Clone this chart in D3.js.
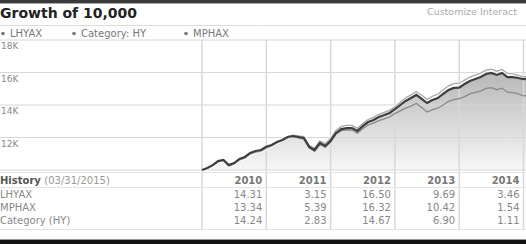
<!DOCTYPE html>
<html>
<head>
<meta charset="utf-8">
<script src="https://cdn.jsdelivr.net/npm/d3@7"></script>
<style>
  body { margin: 0; background: #fff; overflow: hidden; }
  text { font-family: "DejaVu Sans", Verdana, sans-serif; }
</style>
</head>
<body>
<div id="chart"></div>
<script>
// monthly growth of 10,000, Jan 2010 .. Mar 2015
const startYear = 2010
const lhyax = [10000, 10120, 10300, 10550, 10620, 10300, 10430, 10680, 10800, 11050, 11170, 11230, 11430,
  11540, 11720, 11850, 12030, 12090, 12030, 11970, 11420, 11230, 11660, 11480, 11790,
  12280, 12520, 12580, 12580, 12400, 12700, 12950, 13080, 13260, 13380, 13510, 13740,
  14000, 14250, 14430, 14620, 14380, 14120, 14310, 14430, 14680, 14920, 15050, 15070,
  15290, 15480, 15600, 15720, 15910, 15970, 15850, 15970, 15720, 15720, 15660, 15590,
  15650, 15800, 15850]
const mphax = [10000, 10110, 10280, 10520, 10580, 10250, 10370, 10610, 10730, 10970, 11090, 11150, 11330,
  11480, 11690, 11850, 12060, 12140, 12100, 12050, 11520, 11350, 11780, 11620, 11950,
  12440, 12680, 12740, 12750, 12560, 12860, 13110, 13240, 13420, 13540, 13670, 13890,
  14170, 14430, 14620, 14830, 14600, 14340, 14540, 14670, 14930, 15180, 15310, 15340,
  15530, 15720, 15840, 15960, 16150, 16200, 16080, 16190, 15940, 15910, 15830, 15750,
  15810, 15950, 16000]
const category = [10000, 10120, 10300, 10540, 10610, 10300, 10420, 10670, 10790, 11030, 11150, 11210, 11420,
  11530, 11700, 11830, 12000, 12050, 11980, 11900, 11360, 11150, 11570, 11390, 11750,
  12200, 12420, 12470, 12460, 12270, 12540, 12770, 12880, 13040, 13140, 13260, 13470,
  13640, 13810, 13930, 14090, 13840, 13570, 13720, 13800, 14000, 14220, 14330, 14400,
  14520, 14680, 14770, 14860, 15020, 15070, 14940, 15040, 14790, 14760, 14680, 14560,
  14600, 14720, 14760]

const yTicks = [10000, 12000, 14000, 16000, 18000]
const legendNames = ["LHYAX", "Category: HY", "MPHAX"]

// history table
const years = [2010, 2011, 2012, 2013, 2014]
const rowNames = ["LHYAX", "MPHAX", "Category (HY)"]
const retLhyax = ["14.31", "3.15", "16.50", "9.69", "3.46"]
const retMphax = ["13.34", "5.39", "16.32", "10.42", "1.54"]
const retCategory = ["14.24", "2.83", "14.67", "6.90", "1.11"]

const width = 526, height = 251

const svg = d3.select("#chart").append("svg")
  .attr("width", width)
  .attr("height", height)

// top border
svg.append("rect").attr("x", 0).attr("y", 0).attr("width", width).attr("height", 3).attr("fill", "#3a3a3a")
svg.append("rect").attr("x", 0).attr("y", 3).attr("width", width).attr("height", 1).attr("fill", "#aaa")

svg.append("text")
  .attr("x", 0).attr("y", 18)
  .style("font-size", "14px").style("font-weight", "bold")
  .attr("fill", "#222")
  .text("Growth of 10,000")

svg.append("text")
  .attr("x", 427).attr("y", 15)
  .style("font-size", "9.5px")
  .attr("fill", "#aaa")
  .text("Customize Interact")

svg.append("line")
  .attr("x1", 0).attr("x2", width).attr("y1", 25.5).attr("y2", 25.5)
  .attr("stroke", "#ddd")

// legend
const legendX = [1, 72, 184]
const lg = svg.append("g").selectAll("g").data(legendNames).join("g")
  .attr("transform", (d, i) => `translate(${legendX[i]},37)`)
lg.append("circle").attr("cx", 2).attr("cy", -3.5).attr("r", 1.8).attr("fill", "#777")
lg.append("text").attr("x", 9).attr("y", 0)
  .style("font-size", "10px").attr("fill", "#777")
  .text(d => d)

// scales
const x = d3.scaleLinear().domain([2010, 2015]).range([202, 523.5])
const y = d3.scaleLinear().domain([10000, 18000]).range([170, 40])
const t = i => startYear + i / 12

// area gradient
const grad = svg.append("defs").append("linearGradient")
  .attr("id", "areaGrad").attr("x1", 0).attr("x2", 0).attr("y1", 0).attr("y2", 1)
grad.append("stop").attr("offset", "0%").attr("stop-color", "#b8b8b8")
grad.append("stop").attr("offset", "100%").attr("stop-color", "#f7f7f7")

svg.append("path")
  .datum(lhyax)
  .attr("fill", "url(#areaGrad)")
  .attr("d", d3.area().x((d, i) => x(t(i))).y0(y(10000)).y1(d => y(d)))

// gridlines
svg.append("g").selectAll("line").data(yTicks).join("line")
  .attr("x1", 0).attr("x2", width)
  .attr("y1", d => y(d)).attr("y2", d => y(d))
  .attr("stroke", "#d8d8d8").attr("stroke-width", 1.2)

const colEdges = [2010, 2011, 2012, 2013, 2014, 2015]
svg.append("g").selectAll("line").data(colEdges).join("line")
  .attr("x1", d => x(d)).attr("x2", d => x(d))
  .attr("y1", y(18000)).attr("y2", 229)
  .attr("stroke", "#d8d8d8").attr("stroke-width", 1.5)

// y labels, inside the plot just under the gridline
svg.append("g").selectAll("text").data(yTicks.filter(d => d > 10000)).join("text")
  .attr("x", 1).attr("y", d => y(d) + 9)
  .style("font-size", "9px").attr("fill", "#888")
  .text(d => d / 1000 + "K")

// lines
const line = d3.line().x((d, i) => x(t(i))).y(d => y(d))
svg.append("path").datum(category).attr("d", line)
  .attr("fill", "none").attr("stroke", "#8a8a8a").attr("stroke-width", 1.3)
svg.append("path").datum(mphax).attr("d", line)
  .attr("fill", "none").attr("stroke", "#fff").attr("stroke-width", 3)
svg.append("path").datum(mphax).attr("d", line)
  .attr("fill", "none").attr("stroke", "#a8a8a8").attr("stroke-width", 1.3)
svg.append("path").datum(lhyax).attr("d", line)
  .attr("fill", "none").attr("stroke", "#3e3e3e").attr("stroke-width", 2.2)

// table
const tb = svg.append("g")
tb.append("line").attr("x1", 0).attr("x2", width).attr("y1", 172.5).attr("y2", 172.5).attr("stroke", "#e4e4e4")
tb.append("line").attr("x1", 0).attr("x2", width).attr("y1", 187.5).attr("y2", 187.5).attr("stroke", "#e4e4e4")
tb.append("line").attr("x1", 0).attr("x2", width).attr("y1", 229.5).attr("y2", 229.5).attr("stroke", "#e4e4e4")

const hist = tb.append("text").attr("x", 0).attr("y", 184).style("font-size", "10px")
hist.append("tspan").attr("fill", "#555").style("font-weight", "bold").text("History ")
hist.append("tspan").attr("fill", "#999").text("(03/31/2015)")

tb.selectAll(".yr").data(years).join("text")
  .attr("class", "yr")
  .attr("x", d => x(d + 1) - 4).attr("y", 184)
  .attr("text-anchor", "end")
  .style("font-size", "10px").style("font-weight", "bold").attr("fill", "#777")
  .text(d => d)

const rows = [retLhyax, retMphax, retCategory]
rows.forEach((vals, r) => {
  const ry = 197.5 + r * 13
  tb.append("text").attr("x", 0).attr("y", ry)
    .style("font-size", "10px").attr("fill", "#888")
    .text(rowNames[r])
  tb.selectAll(".v" + r).data(vals).join("text")
    .attr("x", (d, i) => x(years[i] + 1) - 4).attr("y", ry)
    .attr("text-anchor", "end")
    .style("font-size", "10px").attr("fill", "#888")
    .text(d => d)
})

// bottom border
svg.append("rect").attr("x", 0).attr("y", 239).attr("width", width).attr("height", 1).attr("fill", "#999")
svg.append("rect").attr("x", 0).attr("y", 240).attr("width", width).attr("height", 4).attr("fill", "#111")
</script>
</body>
</html>
